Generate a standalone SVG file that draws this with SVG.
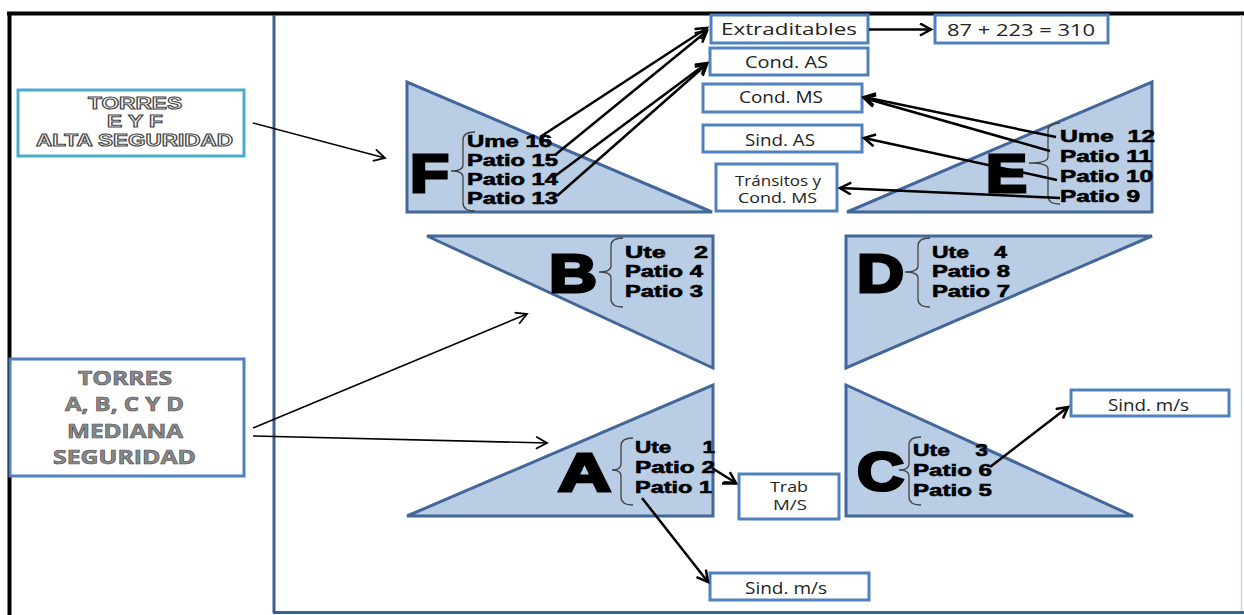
<svg xmlns="http://www.w3.org/2000/svg" width="1244" height="615" viewBox="0 0 1244 615">
<style>
.tri{fill:#b9cde5;stroke:#44679a;stroke-width:3;stroke-linejoin:miter}
.box{fill:#fff;stroke:#4f81bd;stroke-width:3}
.lbl{font-family:"Open Sans","Liberation Sans",sans-serif;font-size:16px;fill:#222}
.sm{font-size:14px}
.big{font-family:"Liberation Sans",Arial,sans-serif;font-weight:900;font-size:54px;fill:#000;stroke:#000;stroke-width:3;stroke-linejoin:miter}
.it{font-family:"Liberation Sans",Arial,sans-serif;font-weight:900;font-size:17px;fill:#000;stroke:#000;stroke-width:0.6;white-space:pre}
.brace{fill:none;stroke:#444;stroke-width:1.3}
.hol{font-family:"Liberation Sans",Arial,sans-serif;font-weight:900;font-size:16px;fill:#fff;stroke:#444;stroke-width:1;text-anchor:middle}
.gry{font-family:"Open Sans","Liberation Sans",sans-serif;font-weight:700;font-size:20px;fill:#8a8a8a;stroke:#4a4a4a;stroke-width:0.6;text-anchor:middle}
.ar{fill:none;stroke:#000;stroke-width:2.5;marker-end:url(#ah)}
.art{fill:none;stroke:#000;stroke-width:1.6;marker-end:url(#aht)}
</style>
<defs>
<marker id="ah" markerWidth="16" markerHeight="16" refX="12" refY="7" orient="auto" markerUnits="userSpaceOnUse"><path d="M1,1 L12,7 L1,13" fill="none" stroke="#000" stroke-width="2.5"/></marker>
<marker id="aht" markerWidth="16" markerHeight="16" refX="12" refY="7" orient="auto" markerUnits="userSpaceOnUse"><path d="M1,1 L12,7 L1,13" fill="none" stroke="#000" stroke-width="1.8"/></marker>
</defs>
<rect width="1244" height="615" fill="#fff"/>
<g id="frame">
<line x1="7" y1="13.5" x2="1244" y2="13.5" stroke="#000" stroke-width="4"/>
<line x1="9.5" y1="12" x2="9.5" y2="615" stroke="#000" stroke-width="4"/>
<line x1="274" y1="15" x2="274" y2="613" stroke="#3d5f8e" stroke-width="3"/>
<line x1="273" y1="612.5" x2="1244" y2="612.5" stroke="#3d5f8e" stroke-width="3"/>
<line x1="1241.5" y1="15" x2="1241.5" y2="611" stroke="#c8d4e3" stroke-width="1.5"/>
</g>
<g id="box-ef">
<rect x="18" y="90" width="226" height="66" fill="#fff" stroke="#4bacc6" stroke-width="3"/>
<text class="hol" x="135" y="109" textLength="94" lengthAdjust="spacingAndGlyphs">TORRES</text>
<text class="hol" x="135" y="127" textLength="56" lengthAdjust="spacingAndGlyphs">E Y F</text>
<text class="hol" x="134.5" y="146" textLength="197" lengthAdjust="spacingAndGlyphs">ALTA SEGURIDAD</text>
</g>
<g id="box-abcd">
<rect x="10" y="359" width="234" height="117" class="box"/>
<text class="gry" x="125" y="385" textLength="94" lengthAdjust="spacingAndGlyphs">TORRES</text>
<text class="gry" x="124.5" y="411" textLength="119" lengthAdjust="spacingAndGlyphs">A, B, C Y D</text>
<text class="gry" x="125" y="438" textLength="116" lengthAdjust="spacingAndGlyphs">MEDIANA</text>
<text class="gry" x="124.5" y="464" textLength="143" lengthAdjust="spacingAndGlyphs">SEGURIDAD</text>
</g>
<g id="tower-f">
<polygon class="tri" points="407,82 407,212 712,212"/>
<text class="big" x="410" y="192" textLength="39" lengthAdjust="spacingAndGlyphs">F</text>
<path class="brace" d="M475,132 Q463,132 463,140 L463,165 Q463,171 451,171 Q463,171 463,177 L463,203 Q463,211 475,211"/>
<text class="it" x="467" y="147" textLength="85" lengthAdjust="spacingAndGlyphs">Ume 16</text>
<text class="it" x="467" y="166" textLength="91" lengthAdjust="spacingAndGlyphs">Patio 15</text>
<text class="it" x="467" y="185" textLength="91" lengthAdjust="spacingAndGlyphs">Patio 14</text>
<text class="it" x="467" y="204" textLength="91" lengthAdjust="spacingAndGlyphs">Patio 13</text>
</g>
<g id="tower-e">
<polygon class="tri" points="1152,82 1152,212 847,212"/>
<text class="big" x="986" y="192" textLength="41" lengthAdjust="spacingAndGlyphs">E</text>
<path class="brace" d="M1060,123 Q1048,123 1048,131 L1048,157 Q1048,163 1029,163 Q1048,163 1048,169 L1048,196 Q1048,204 1060,204"/>
<text class="it" x="1060" y="142" textLength="95" lengthAdjust="spacingAndGlyphs">Ume  12</text>
<text class="it" x="1060" y="162" textLength="92" lengthAdjust="spacingAndGlyphs">Patio 11</text>
<text class="it" x="1060" y="182" textLength="93" lengthAdjust="spacingAndGlyphs">Patio 10</text>
<text class="it" x="1060" y="202" textLength="80" lengthAdjust="spacingAndGlyphs">Patio 9</text>
</g>
<g id="tower-b">
<polygon class="tri" points="427,236 713,236 713,368"/>
<text class="big" x="549" y="292" textLength="48" lengthAdjust="spacingAndGlyphs">B</text>
<path class="brace" d="M623,238 Q611,238 611,246 L611,266 Q611,272 599,272 Q611,272 611,278 L611,299 Q611,307 623,307"/>
<text class="it" x="625" y="258" textLength="83" lengthAdjust="spacingAndGlyphs">Ute    2</text>
<text class="it" x="625" y="277" textLength="78" lengthAdjust="spacingAndGlyphs">Patio 4</text>
<text class="it" x="625" y="297" textLength="78" lengthAdjust="spacingAndGlyphs">Patio 3</text>
</g>
<g id="tower-d">
<polygon class="tri" points="846,236 1152,236 846,368"/>
<text class="big" x="857" y="292" textLength="47" lengthAdjust="spacingAndGlyphs">D</text>
<path class="brace" d="M930,238 Q918,238 918,246 L918,266 Q918,272 905,272 Q918,272 918,278 L918,299 Q918,307 930,307"/>
<text class="it" x="932" y="258" textLength="75" lengthAdjust="spacingAndGlyphs">Ute    4</text>
<text class="it" x="932" y="277" textLength="78" lengthAdjust="spacingAndGlyphs">Patio 8</text>
<text class="it" x="932" y="297" textLength="78" lengthAdjust="spacingAndGlyphs">Patio 7</text>
</g>
<g id="tower-a">
<polygon class="tri" points="713,385 713,516 407,516"/>
<text class="big" x="558" y="491" textLength="53" lengthAdjust="spacingAndGlyphs">A</text>
<path class="brace" d="M633,438 Q621,438 621,446 L621,464 Q621,470 612,470 Q621,470 621,476 L621,497 Q621,505 633,505"/>
<text class="it" x="635" y="453" textLength="80" lengthAdjust="spacingAndGlyphs">Ute     1</text>
<text class="it" x="635" y="473" textLength="80" lengthAdjust="spacingAndGlyphs">Patio 2</text>
<text class="it" x="635" y="493" textLength="77" lengthAdjust="spacingAndGlyphs">Patio 1</text>
</g>
<g id="tower-c">
<polygon class="tri" points="846,385 846,516 1133,516"/>
<text class="big" x="857" y="490" textLength="47" lengthAdjust="spacingAndGlyphs">C</text>
<path class="brace" d="M921,437 Q909,437 909,445 L909,464 Q909,470 899,470 Q909,470 909,476 L909,497 Q909,505 921,505"/>
<text class="it" x="913" y="456" textLength="75" lengthAdjust="spacingAndGlyphs">Ute    3</text>
<text class="it" x="913" y="476" textLength="79" lengthAdjust="spacingAndGlyphs">Patio 6</text>
<text class="it" x="913" y="496" textLength="79" lengthAdjust="spacingAndGlyphs">Patio 5</text>
</g>
<g id="box-extraditables">
<rect x="711" y="15" width="157" height="28" class="box"/>
<text class="lbl" x="721" y="35" textLength="136" lengthAdjust="spacingAndGlyphs">Extraditables</text>
</g>
<g id="box-total">
<rect x="935" y="15" width="173" height="28" class="box"/>
<text class="lbl" x="947" y="36" textLength="148" lengthAdjust="spacingAndGlyphs">87 + 223 = 310</text>
</g>
<g id="box-cond-as">
<rect x="710" y="48" width="158" height="27" class="box"/>
<text class="lbl" x="745" y="68" textLength="83" lengthAdjust="spacingAndGlyphs">Cond. AS</text>
</g>
<g id="box-cond-ms">
<rect x="703" y="84" width="159" height="28" class="box"/>
<text class="lbl" x="739" y="103" textLength="84" lengthAdjust="spacingAndGlyphs">Cond. MS</text>
</g>
<g id="box-sind-as">
<rect x="703" y="125" width="159" height="27" class="box"/>
<text class="lbl" x="745" y="146" textLength="70" lengthAdjust="spacingAndGlyphs">Sind. AS</text>
</g>
<g id="box-transitos">
<rect x="716" y="164" width="121" height="47" class="box"/>
<text class="lbl sm" x="735" y="186" textLength="86" lengthAdjust="spacingAndGlyphs">Tránsitos y</text>
<text class="lbl sm" x="738" y="203" textLength="79" lengthAdjust="spacingAndGlyphs">Cond. MS</text>
</g>
<g id="box-trab">
<rect x="739" y="474" width="100" height="45" class="box"/>
<text class="lbl sm" x="770" y="492" textLength="38" lengthAdjust="spacingAndGlyphs">Trab</text>
<text class="lbl sm" x="773" y="510" textLength="34" lengthAdjust="spacingAndGlyphs">M/S</text>
</g>
<g id="box-sind-ms-a">
<rect x="710" y="573" width="159" height="27" class="box"/>
<text class="lbl" x="745" y="594" textLength="82" lengthAdjust="spacingAndGlyphs">Sind. m/s</text>
</g>
<g id="box-sind-ms-c">
<rect x="1071" y="390" width="158" height="26" class="box"/>
<text class="lbl" x="1108" y="411" textLength="81" lengthAdjust="spacingAndGlyphs">Sind. m/s</text>
</g>
<g id="connectors">
<path class="art" d="M253,123 L385,158"/>
<path class="art" d="M253,428 L527,314"/>
<path class="art" d="M253,436 L547,443"/>
<path class="ar" d="M869,29.5 L931,29.5"/>
<path class="ar" d="M540,137 L707,28"/>
<path class="ar" d="M555,155 L707,31"/>
<path class="ar" d="M555,176 L707,63"/>
<path class="ar" d="M557,196 L707,64"/>
<path class="ar" d="M1056,137 L864,97"/>
<path class="ar" d="M1050,151 L864,98"/>
<path class="ar" d="M1057,180 L864,138"/>
<path class="ar" d="M1060,198 L840,188"/>
<path class="ar" d="M712,468 L736,483"/>
<path fill="none" stroke="#000" stroke-width="2.5" d="M722,483.5 L737,483.5"/>
<path class="ar" d="M642,498 L708,582"/>
<path class="ar" d="M990,467 L1068,407"/>
</g>
</svg>
